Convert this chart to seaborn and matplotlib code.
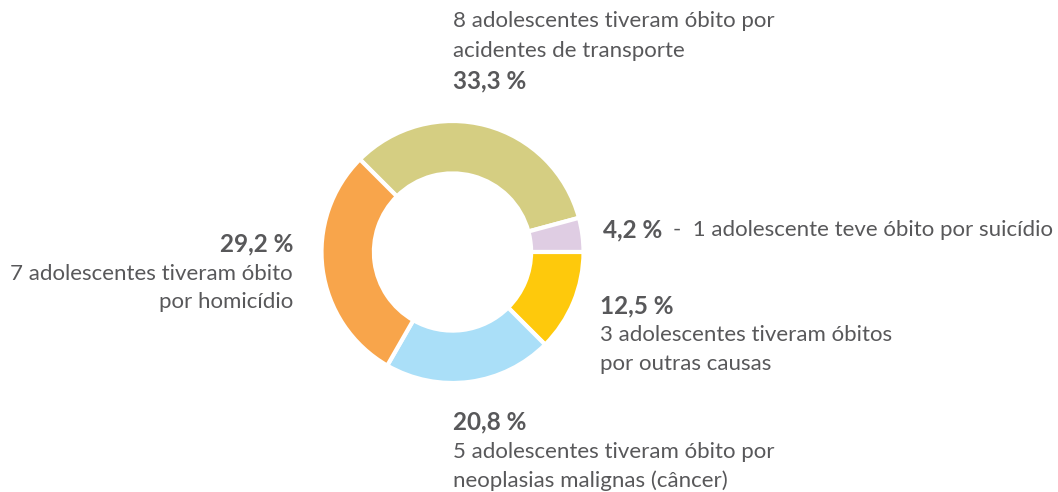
import matplotlib
matplotlib.use("Agg")
import matplotlib.pyplot as plt
import seaborn as sns

# Causes of death among adolescents (share of deaths, %)
causes = ["acidentes de transporte", "suicídio", "outras causas",
          "neoplasias malignas", "homicídio"]
shares = [33.3, 4.2, 12.5, 20.8, 29.2]
counts = [8, 1, 3, 5, 7]
colors = ["#d5ce82", "#dfcde3", "#fec90c", "#aadff8", "#f8a54b"]

sns.set_theme(style="white")
plt.rcParams["font.family"] = ["Lato", "DejaVu Sans"]

W, H = 1058, 492
fig = plt.figure(figsize=(W / 100, H / 100), dpi=100)
fig.patch.set_facecolor("white")

# donut centred at (452, 252) px, outer radius ~131 px
cx, cy, r = 452.5, 252, 131
ax = fig.add_axes([(cx - r) / W, (H - cy - r) / H, 2 * r / W, 2 * r / H])
ax.pie(shares, colors=colors, startangle=135, counterclock=False, radius=1,
       wedgeprops=dict(width=0.4, edgecolor="white", linewidth=3))
ax.set_xlim(-1, 1)
ax.set_ylim(-1, 1)
ax.set_aspect("equal")
ax.axis("off")

txt_color = "#58585a"
fs = 16
fs_bold = 17.5


def put(x, y, s, bold=False, ha="left"):
    fig.text(x / W, 1 - y / H, s, ha=ha, va="center",
             fontsize=fs_bold if bold else fs,
             color=txt_color, fontweight="bold" if bold else "normal")


def pct(v):
    return f"{v:.1f}".replace(".", ",") + " %"


# transport
put(453, 21, f"{counts[0]} adolescentes tiveram óbito por")
put(453, 51, causes[0])
put(453, 81, pct(shares[0]), bold=True)

# suicide
put(603, 230, pct(shares[1]), bold=True)
put(673, 230, f"-  {counts[1]} adolescente teve óbito por {causes[1]}")

# other causes
put(600, 306, pct(shares[2]), bold=True)
put(600, 335, f"{counts[2]} adolescentes tiveram óbitos")
put(600, 364, "por " + causes[2])

# neoplasms
put(453, 422, pct(shares[3]), bold=True)
put(453, 452, f"{counts[3]} adolescentes tiveram óbito por")
put(453, 481, causes[3] + " (câncer)")

# homicide
put(293, 244, pct(shares[4]), bold=True, ha="right")
put(293, 274, f"{counts[4]} adolescentes tiveram óbito", ha="right")
put(293, 302, "por " + causes[4], ha="right")

fig.savefig("out.png", dpi=100, facecolor="white")
